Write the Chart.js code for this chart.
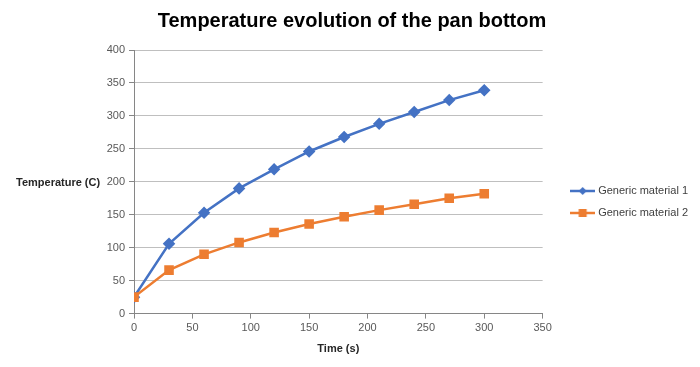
<!DOCTYPE html>
<html>
<head>
<meta charset="utf-8">
<script src="https://cdn.jsdelivr.net/npm/chart.js@4/dist/chart.umd.min.js"></script>
<style>
  html, body { margin: 0; padding: 0; background: #fff; }
  #wrap { width: 700px; height: 367px; }
</style>
</head>
<body>
<div id="wrap"><canvas id="chart" width="700" height="367"></canvas></div>
<script>
const times = [0, 30, 60, 90, 120, 150, 180, 210, 240, 270, 300];
const material1 = [25, 106, 153, 190, 219, 246, 268, 288, 306, 324, 339];
const material2 = [25, 66, 90, 108, 123, 136, 147, 157, 166, 175, 182];
const seriesNames = ["Generic material 1", "Generic material 2"];

const blue = "#4472C4";
const orange = "#ED7D31";
const font = "'Liberation Sans', Arial, sans-serif";

// legend marker: short line with the point symbol on it
function legendIcon(color, shape) {
  const c = document.createElement("canvas");
  c.width = 25;
  c.height = 12;
  const g = c.getContext("2d");
  g.strokeStyle = color;
  g.lineWidth = 2.5;
  g.beginPath();
  g.moveTo(0, 6);
  g.lineTo(25, 6);
  g.stroke();
  g.fillStyle = color;
  if (shape === "diamond") {
    g.beginPath();
    g.moveTo(12.5, 2);
    g.lineTo(16.5, 6);
    g.lineTo(12.5, 10);
    g.lineTo(8.5, 6);
    g.closePath();
    g.fill();
  } else {
    g.fillRect(8.5, 2, 8, 8);
  }
  return c;
}

const toPoints = (ys) => times.map((t, i) => ({ x: t, y: ys[i] }));

// horizontal y axis title, and legend nudged to where the original has it
const extras = {
  id: "extras",
  afterLayout(chart) {
    const lg = chart.legend;
    lg.left += 19;
    lg.right += 19;
    lg.top += 22;
    lg.bottom += 22;
  },
  afterDraw(chart) {
    const c = chart.ctx;
    const area = chart.chartArea;
    c.save();
    c.font = "bold 11px " + font;
    c.fillStyle = "#262626";
    c.textBaseline = "middle";
    c.fillText("Temperature (C)", 16, (area.top + area.bottom) / 2 + 1);
    c.restore();
  },
};

new Chart(document.getElementById("chart"), {
  type: "line",
  data: {
    datasets: [
      {
        label: seriesNames[0],
        data: toPoints(material1),
        borderColor: blue,
        backgroundColor: blue,
        borderWidth: 2.5,
        pointStyle: "rectRot",
        pointRadius: 4.5,
        pointHoverRadius: 4.5,
        tension: 0,
        order: 1,
      },
      {
        label: seriesNames[1],
        data: toPoints(material2),
        borderColor: orange,
        backgroundColor: orange,
        borderWidth: 2.5,
        pointStyle: "rect",
        pointRadius: 5,
        pointHoverRadius: 5,
        tension: 0,
        order: 0,
      },
    ],
  },
  options: {
    responsive: false,
    animation: false,
    layout: { padding: { left: 25, right: 21, top: 0, bottom: 7 } },
    plugins: {
      title: {
        display: true,
        text: "Temperature evolution of the pan bottom",
        color: "#000",
        font: { family: font, size: 20, weight: "bold" },
        padding: { top: 9, bottom: 17 },
      },
      legend: {
        position: "right",
        labels: {
          color: "#404040",
          font: { family: font, size: 11 },
          usePointStyle: true,
          pointStyleWidth: 20,
          padding: 11,
          generateLabels: (chart) =>
            chart.data.datasets.map((ds, i) => ({
              text: ds.label,
              datasetIndex: i,
              fontColor: "#404040",
              pointStyle: legendIcon(ds.borderColor, i === 0 ? "diamond" : "square"),
              lineWidth: 0,
            })),
        },
      },
      tooltip: { enabled: false },
    },
    scales: {
      x: {
        type: "linear",
        min: 0,
        max: 350,
        ticks: { stepSize: 50, color: "#595959", font: { family: font, size: 11 }, padding: 3 },
        grid: { drawOnChartArea: false, drawTicks: true, tickLength: 5, tickColor: "#868686" },
        border: { color: "#868686", width: 1 },
        title: {
          display: true,
          text: "Time (s)",
          color: "#262626",
          font: { family: font, size: 11, weight: "bold" },
          padding: { top: 5 },
        },
      },
      y: {
        min: 0,
        max: 400,
        afterFit: (scale) => { scale.width = 109; },
        ticks: { stepSize: 50, color: "#595959", font: { family: font, size: 11 }, padding: 4 },
        grid: { color: "#bfbfbf", tickColor: "#868686", tickLength: 5 },
        border: { color: "#868686", width: 1 },
      },
    },
  },
  plugins: [extras],
});
</script>
</body>
</html>
